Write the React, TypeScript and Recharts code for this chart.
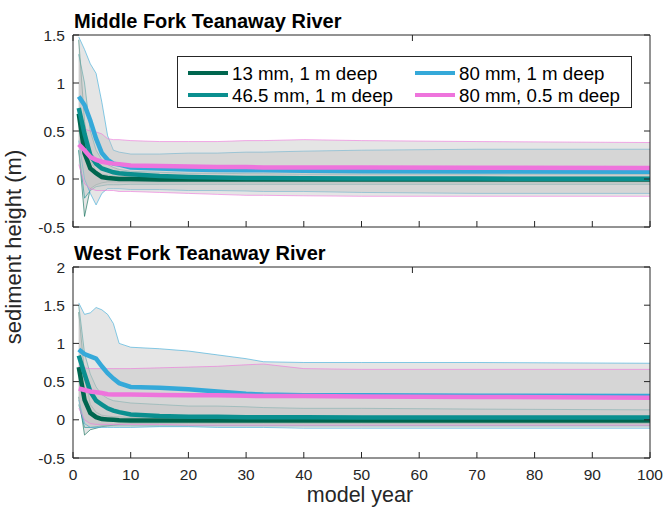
import { Area, ComposedChart, Line, XAxis, YAxis } from "recharts"

const FONT = '"Liberation Sans", Arial, Helvetica, sans-serif'
const INK = "#262626"

// model years sampled from the runs
const years = [1, 2, 3, 4, 5, 6, 7, 8, 10, 15, 20, 25, 30, 33, 40, 50, 70, 100]

// Middle Fork: mean, upper and lower envelope per grain size / depth
const mf13Mean = [0.68, 0.27, 0.11, 0.06, 0.02, 0.01, 0.005, 0, 0, -0.005, -0.005, -0.005, -0.005, -0.005, -0.005, -0.005, -0.005, -0.005]
const mf13Hi = [1.45, 0.6, 0.2, 0.08, 0.05, 0.04, 0.03, 0.03, 0.025, 0.02, 0.02, 0.02, 0.02, 0.02, 0.02, 0.02, 0.02, 0.02]
const mf13Lo = [0.3, -0.39, -0.1, -0.06, -0.04, -0.03, -0.03, -0.03, -0.03, -0.03, -0.03, -0.03, -0.03, -0.03, -0.03, -0.03, -0.03, -0.03]

const mf46Mean = [0.74, 0.47, 0.25, 0.16, 0.11, 0.09, 0.07, 0.06, 0.05, 0.03, 0.02, 0.015, 0.01, 0.01, 0.008, 0.005, 0.004, 0.003]
const mf46Hi = [1.3, 1.0, 0.5, 0.3, 0.2, 0.15, 0.12, 0.1, 0.08, 0.07, 0.06, 0.06, 0.055, 0.055, 0.05, 0.05, 0.05, 0.05]
const mf46Lo = [0.3, -0.2, -0.12, -0.08, -0.07, -0.06, -0.06, -0.06, -0.055, -0.055, -0.055, -0.055, -0.055, -0.055, -0.055, -0.055, -0.055, -0.055]

const mf80Mean = [0.86, 0.77, 0.61, 0.42, 0.27, 0.2, 0.16, 0.15, 0.12, 0.11, 0.1, 0.095, 0.09, 0.09, 0.085, 0.08, 0.078, 0.075]
const mf80Hi = [1.48, 1.35, 1.2, 1.1, 0.8, 0.45, 0.3, 0.28, 0.26, 0.26, 0.27, 0.27, 0.28, 0.28, 0.29, 0.3, 0.31, 0.31]
const mf80Lo = [0.4, 0.0, -0.15, -0.27, -0.15, -0.1, -0.1, -0.1, -0.11, -0.11, -0.12, -0.12, -0.125, -0.13, -0.13, -0.14, -0.15, -0.15]

const mfHalfMean = [0.36, 0.3, 0.23, 0.2, 0.18, 0.17, 0.16, 0.155, 0.14, 0.135, 0.13, 0.125, 0.125, 0.12, 0.12, 0.12, 0.118, 0.115]
const mfHalfHi = [0.55, 0.52, 0.5, 0.49, 0.47, 0.42, 0.41, 0.41, 0.4, 0.39, 0.39, 0.39, 0.4, 0.4, 0.41, 0.4, 0.39, 0.38]
const mfHalfLo = [0.15, -0.05, -0.1, -0.12, -0.12, -0.12, -0.12, -0.13, -0.13, -0.14, -0.15, -0.16, -0.17, -0.17, -0.175, -0.18, -0.18, -0.18]

// West Fork
const wf13Mean = [0.69, 0.26, 0.09, 0.035, 0.01, 0.005, 0, -0.005, -0.01, -0.01, -0.01, -0.01, -0.01, -0.01, -0.01, -0.01, -0.01, -0.01]
const wf13Hi = [1.41, 0.6, 0.2, 0.1, 0.06, 0.05, 0.04, 0.04, 0.03, 0.03, 0.03, 0.03, 0.03, 0.03, 0.03, 0.03, 0.03, 0.03]
const wf13Lo = [0.3, -0.2, -0.13, -0.11, -0.09, -0.08, -0.07, -0.06, -0.05, -0.05, -0.05, -0.05, -0.05, -0.05, -0.05, -0.05, -0.05, -0.05]

const wf46Mean = [0.84, 0.6, 0.37, 0.25, 0.2, 0.15, 0.12, 0.1, 0.07, 0.05, 0.04, 0.04, 0.035, 0.035, 0.035, 0.03, 0.03, 0.03]
const wf46Hi = [1.5, 0.87, 0.6, 0.43, 0.33, 0.28, 0.25, 0.24, 0.22, 0.2, 0.18, 0.18, 0.17, 0.16, 0.15, 0.15, 0.14, 0.13]
const wf46Lo = [0.2, -0.1, -0.1, -0.09, -0.08, -0.08, -0.08, -0.08, -0.08, -0.08, -0.08, -0.08, -0.08, -0.08, -0.08, -0.08, -0.08, -0.08]

const wf80Mean = [0.92, 0.86, 0.83, 0.8, 0.7, 0.61, 0.54, 0.48, 0.43, 0.42, 0.4, 0.37, 0.34, 0.33, 0.32, 0.32, 0.315, 0.31]
const wf80Hi = [1.53, 1.38, 1.4, 1.47, 1.44, 1.38, 1.26, 1.0, 0.95, 0.93, 0.9, 0.85, 0.8, 0.76, 0.75, 0.75, 0.75, 0.74]
const wf80Lo = [0.26, -0.05, -0.1, -0.1, -0.1, -0.1, -0.1, -0.1, -0.1, -0.09, -0.09, -0.1, -0.1, -0.1, -0.11, -0.11, -0.11, -0.11]

const wfHalfMean = [0.41, 0.39, 0.37, 0.36, 0.35, 0.335, 0.33, 0.33, 0.33, 0.325, 0.32, 0.32, 0.315, 0.31, 0.31, 0.305, 0.3, 0.29]
const wfHalfHi = [0.7, 0.68, 0.67, 0.67, 0.67, 0.67, 0.67, 0.67, 0.67, 0.68, 0.69, 0.7, 0.72, 0.73, 0.67, 0.66, 0.66, 0.66]
const wfHalfLo = [0.15, 0.0, -0.05, -0.06, -0.06, -0.06, -0.06, -0.06, -0.06, -0.06, -0.07, -0.07, -0.07, -0.07, -0.07, -0.07, -0.07, -0.07]

const seriesNames = ["13 mm, 1 m deep", "46.5 mm, 1 m deep", "80 mm, 1 m deep", "80 mm, 0.5 m deep"]
const seriesColors = ["#00664f", "#0a8f8f", "#35a9d9", "#ee74dc"]

const xTicks = [0, 10, 20, 30, 40, 50, 60, 70, 80, 90, 100]
const mfTicks = [-0.5, 0, 0.5, 1, 1.5]
const wfTicks = [-0.5, 0, 0.5, 1, 1.5, 2]

function buildRows(means: number[][], his: number[][], los: number[][]) {
  return years.map((year, i) => {
    const row: any = { year }
    means.forEach((m, k) => {
      row["m" + k] = m[i]
      row["band" + k] = [los[k][i], his[k][i]]
    })
    return row
  })
}

const mfRows = buildRows(
  [mf13Mean, mf46Mean, mf80Mean, mfHalfMean],
  [mf13Hi, mf46Hi, mf80Hi, mfHalfHi],
  [mf13Lo, mf46Lo, mf80Lo, mfHalfLo]
)
const wfRows = buildRows(
  [wf13Mean, wf46Mean, wf80Mean, wfHalfMean],
  [wf13Hi, wf46Hi, wf80Hi, wfHalfHi],
  [wf13Lo, wf46Lo, wf80Lo, wfHalfLo]
)

const XTick = (p: any) => (
  <g>
    <line x1={p.x} y1={p.y} x2={p.x} y2={p.y + p.dir * 6} stroke={INK} />
    {p.label && (
      <text x={p.x} y={p.y + 21.5} textAnchor="middle" fontFamily={FONT} fontSize={15.5} fill={INK}>
        {p.payload.value}
      </text>
    )}
  </g>
)

const YTick = (p: any) => (
  <g>
    <line x1={p.x} y1={p.y} x2={p.x + p.dir * 6} y2={p.y} stroke={INK} />
    {p.label && (
      <text x={p.x - 8} y={p.y + 5.5} textAnchor="end" fontFamily={FONT} fontSize={15.5} fill={INK}>
        {String(p.payload.value)}
      </text>
    )}
  </g>
)

function Panel({ rows, yDomain, yTicks, showXLabels, height, margin }: any) {
  const axisCommon = { tickSize: 0, tickMargin: 0, tickLine: false, interval: 0 as const, axisLine: { stroke: INK, strokeWidth: 1 } }
  return (
    <ComposedChart width={665} height={height} data={rows} margin={margin}>
      <XAxis dataKey="year" type="number" domain={[0, 100]} ticks={xTicks} height={1} {...axisCommon}
        tick={(p: any) => <XTick {...p} dir={-1} label={showXLabels} />} />
      <XAxis xAxisId="top" orientation="top" type="number" domain={[0, 100]} ticks={xTicks} height={1} {...axisCommon}
        tick={(p: any) => <XTick {...p} dir={1} label={false} />} />
      <YAxis type="number" domain={yDomain} ticks={yTicks} width={1} allowDataOverflow {...axisCommon}
        tick={(p: any) => <YTick {...p} dir={1} label />} />
      <YAxis yAxisId="right" orientation="right" type="number" domain={yDomain} ticks={yTicks} width={1} allowDataOverflow {...axisCommon}
        tick={(p: any) => <YTick {...p} dir={-1} label={false} />} />
      {seriesColors.map((c, k) => (
        <Area key={"b" + k} type="linear" dataKey={"band" + k} fill="#c1c1c1" fillOpacity={0.42}
          stroke={c} strokeWidth={0.8} strokeOpacity={0.75} isAnimationActive={false} dot={false} activeDot={false} />
      ))}
      {seriesColors.map((c, k) => (
        <Line key={"l" + k} type="linear" dataKey={"m" + k} stroke={c} strokeWidth={4.5}
          dot={false} activeDot={false} isAnimationActive={false} />
      ))}
    </ComposedChart>
  )
}

export default function App() {
  return (
    <div style={{ position: "relative", width: 665, height: 508, background: "#fff", fontFamily: FONT }}>
      <style>{"body{margin:0}"}</style>
      <div style={{ position: "absolute", left: 0, top: 0 }}>
        <Panel rows={mfRows} yDomain={[-0.5, 1.5]} yTicks={mfTicks} showXLabels={false} height={240}
          margin={{ top: 34, right: 14, bottom: 12, left: 72 }} />
      </div>
      <div style={{ position: "absolute", left: 0, top: 240 }}>
        <Panel rows={wfRows} yDomain={[-0.5, 2]} yTicks={wfTicks} showXLabels height={268}
          margin={{ top: 26, right: 14, bottom: 49, left: 72 }} />
      </div>
      <svg width={665} height={508} style={{ position: "absolute", left: 0, top: 0, pointerEvents: "none" }}>
        <text x={74} y={28} fontFamily={FONT} fontWeight="bold" fontSize={20} fill="#000">Middle Fork Teanaway River</text>
        <text x={74} y={260} fontFamily={FONT} fontWeight="bold" fontSize={20} fill="#000">West Fork Teanaway River</text>
        <text x={360} y={502} textAnchor="middle" fontFamily={FONT} fontSize={21.5} fill={INK}>model year</text>
        <text transform="translate(21,247) rotate(-90)" textAnchor="middle" fontFamily={FONT} fontSize={22} fill={INK}>sediment height (m)</text>
        <rect x={177.5} y={56.5} width={454} height={51} fill="#fff" stroke={INK} strokeWidth={1} />
        {seriesNames.map((name, k) => {
          const col = k < 2 ? 0 : 1
          const row = k % 2
          const lx = col === 0 ? 188 : 415
          const ly = row === 0 ? 73 : 95
          return (
            <g key={name}>
              <line x1={lx} y1={ly} x2={lx + 40} y2={ly} stroke={seriesColors[k]} strokeWidth={4} />
              <text x={lx + 44} y={ly + 6.5} fontFamily={FONT} fontSize={18.7} fill="#000">{name}</text>
            </g>
          )
        })}
      </svg>
    </div>
  )
}
